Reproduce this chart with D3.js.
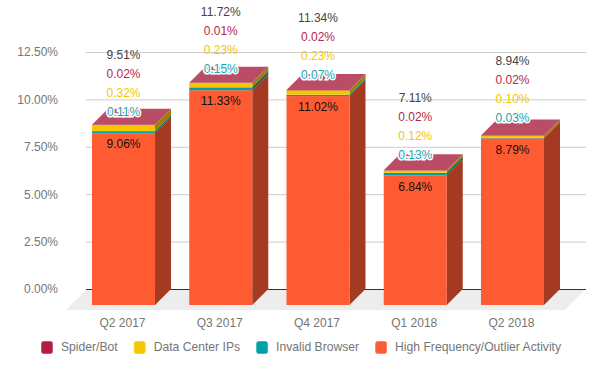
<!DOCTYPE html>
<html>
<head>
<meta charset="utf-8">
<script src="https://cdnjs.cloudflare.com/ajax/libs/d3/7.8.5/d3.min.js"></script>
<style>
  html, body { margin: 0; padding: 0; background: #fff; }
  svg { display: block; font-family: "Liberation Sans", Arial, sans-serif; font-size: 12px; }
  .axis_y .domain, .axis_x .domain, .axis_x line { display: none; }
  .axis_y line { stroke: #ccc; }
  .axis_y text, .axis_x text { fill: #757575; font-size: 12px; }
  .legend text { fill: #757575; font-size: 12.15px; }
</style>
</head>
<body>
<div id="chart"></div>
<script>
const quarters = ["Q2 2017", "Q3 2017", "Q4 2017", "Q1 2018", "Q2 2018"];
const highFrequency = [9.06, 11.33, 11.02, 6.84, 8.79];
const invalidBrowser = [0.11, 0.15, 0.07, 0.13, 0.03];
const dataCenter = [0.32, 0.23, 0.23, 0.12, 0.10];
const spiderBot = [0.02, 0.01, 0.02, 0.02, 0.02];
const totals = [9.51, 11.72, 11.34, 7.11, 8.94];
const yTicks = [0, 2.5, 5, 7.5, 10, 12.5];

const seriesNames = ["High Frequency/Outlier Activity", "Invalid Browser", "Data Center IPs", "Spider/Bot"];
const seriesValues = [highFrequency, invalidBrowser, dataCenter, spiderBot];
const seriesColors = ["#FF5B33", "#00A0A8", "#F6C700", "#B01E41"];
const legendOrder = [3, 2, 1, 0];

const width = 604;
const height = 371;
const depth = 16;
const plotLeft = 86;
const plotRight = 586;

const svg = d3.select("#chart").append("svg")
    .attr("width", width)
    .attr("height", height);

let xScale = d3.scaleBand()
    .domain(quarters)
    .range([74.9, 561.1])
    .paddingInner(0.352)
    .paddingOuter(0.176);

let yScale = d3.scaleLinear()
    .domain([0, 12.5])
    .range([289, 52]);

// front faces sit one depth step in front of the back wall
const frontY = v => yScale(v) + depth;

// floor
svg.append("polygon")
    .attr("fill", "#ededed")
    .attr("points", [
        [plotLeft - 20, yScale(0) + 21],
        [plotLeft + 1, yScale(0)],
        [plotRight, yScale(0)],
        [plotRight - 21, yScale(0) + 21]
    ].join(" "));

let yAxis = svg.append("g")
    .attr("class", "axis_y")
    .attr("transform", "translate(" + plotLeft + ",0)")
    .call(d3.axisLeft(yScale)
        .tickValues(yTicks)
        .tickFormat(d => d3.format(".2f")(d) + "%")
        .tickSize(-(plotRight - plotLeft)));

yAxis.selectAll("text").attr("x", -28);
yAxis.selectAll(".tick").filter(d => d === 0).select("line").style("stroke", "#333");

let xAxis = svg.append("g")
    .attr("class", "axis_x")
    .attr("transform", "translate(-1,315)")
    .call(d3.axisBottom(xScale).tickSize(0));

// stack the series from the bottom up
const rows = quarters.map((q, i) => {
    let row = {quarter: q};
    seriesNames.forEach((name, s) => { row[name] = seriesValues[s][i]; });
    return row;
});
const stacked = d3.stack().keys(seriesNames)(rows);
const barW = xScale.bandwidth();

const bars = svg.append("g").selectAll("g")
    .data(quarters)
    .join("g")
    .attr("transform", d => "translate(" + xScale(d) + ",0)");

bars.each(function(q, i) {
    const g = d3.select(this);
    stacked.forEach((layer, s) => {
        const y0 = frontY(layer[i][0]);
        const y1 = frontY(layer[i][1]);
        // side face
        g.append("polygon")
            .attr("fill", d3.rgb(seriesColors[s]).darker(1.25))
            .attr("points", [
                [barW, y0], [barW + depth, y0 - depth],
                [barW + depth, y1 - depth], [barW, y1]
            ].join(" "));
        // front face
        g.append("rect")
            .attr("y", y1)
            .attr("width", barW)
            .attr("height", y0 - y1)
            .attr("fill", seriesColors[s]);
    });
    // top face
    const top = frontY(totals[i]);
    g.append("polygon")
        .attr("fill", "#BA4C66")
        .attr("points", [
            [0, top], [depth, top - depth],
            [barW + depth, top - depth], [barW, top]
        ].join(" "));
});

// labels, stacked upwards from the top of the orange segment
const labelStep = 19;
const labels = svg.append("g").attr("text-anchor", "middle");

quarters.forEach((q, i) => {
    const cx = xScale(q) + barW / 2;
    const base = frontY(highFrequency[i]);

    labels.append("text")
        .attr("x", cx)
        .attr("y", base + 11)
        .attr("dy", "0.35em")
        .attr("fill", "#111")
        .text(d3.format(".2f")(highFrequency[i]) + "%");

    labels.append("text")
        .attr("x", cx)
        .attr("y", base - 21)
        .attr("dy", "0.35em")
        .attr("fill", "#1AA5AD")
        .attr("stroke", "#fff")
        .attr("stroke-width", 3)
        .attr("paint-order", "stroke")
        .text(d3.format(".2f")(invalidBrowser[i]) + "%");

    labels.append("text")
        .attr("x", cx)
        .attr("y", base - 21 - labelStep)
        .attr("dy", "0.35em")
        .attr("fill", "#F6C700")
        .text(d3.format(".2f")(dataCenter[i]) + "%");

    labels.append("text")
        .attr("x", cx)
        .attr("y", base - 21 - labelStep * 2)
        .attr("dy", "0.35em")
        .attr("fill", "#B5274B")
        .text(d3.format(".2f")(spiderBot[i]) + "%");

    labels.append("text")
        .attr("x", cx)
        .attr("y", base - 21 - labelStep * 3)
        .attr("dy", "0.35em")
        .attr("fill", "#444")
        .text(d3.format(".2f")(totals[i]) + "%");
});

// legend
const legend = svg.append("g").attr("class", "legend");
let legendX = 41;
legendOrder.forEach(s => {
    legend.append("rect")
        .attr("x", legendX + 0.5)
        .attr("y", 341.5)
        .attr("width", 11)
        .attr("height", 12)
        .attr("rx", 2)
        .attr("fill", seriesColors[s])
        .attr("stroke", d3.interpolateRgb(seriesColors[s], "#fff")(0.25));
    const t = legend.append("text")
        .attr("x", legendX + 20)
        .attr("y", 347)
        .attr("dy", "0.35em")
        .text(seriesNames[s]);
    legendX += 20 + t.node().getComputedTextLength() + 16;
});
</script>
</body>
</html>
